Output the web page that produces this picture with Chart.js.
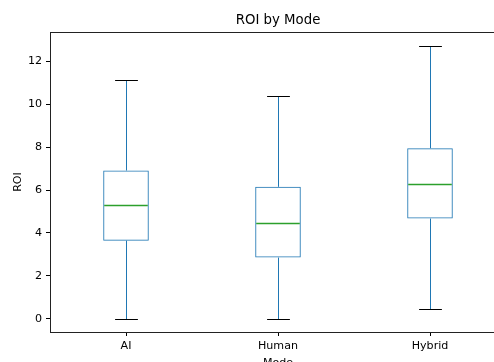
<!DOCTYPE html>
<html>
<head>
<meta charset="utf-8">
<script src="https://cdn.jsdelivr.net/npm/chart.js@4/dist/chart.umd.min.js"></script>
<style>
  html, body { margin: 0; padding: 0; background: #fff; overflow: hidden; }
  #wrap { width: 510px; height: 370px; }
</style>
</head>
<body>
<div id="wrap"><canvas id="boxChart" width="510" height="370"></canvas></div>
<script>
// box stats
const modes = ["AI", "Human", "Hybrid"];
const whiskerLow = [0, 0, 0.47];
const q1 = [3.64, 2.85, 4.67];
const medians = [5.3, 4.48, 6.3];
const q3 = [6.91, 6.15, 7.95];
const whiskerHigh = [11.11, 10.38, 12.71];
const yTicks = [0, 2, 4, 6, 8, 10, 12];

const font = "'DejaVu Sans', sans-serif";

// whiskers, caps, medians, the frame and the title
const boxExtras = {
	id: "boxExtras",
	afterDatasetsDraw(chart) {
		const ctx = chart.ctx;
		const y = chart.scales.y;
		const area = chart.chartArea;
		const bars = chart.getDatasetMeta(0).data;
		ctx.save();
		ctx.lineWidth = 1;
		bars.forEach((bar, i) => {
			const cx = Math.round(bar.x) + 0.5;
			const half = bar.width / 2;
			const capHalf = bar.width / 4;
			const yLo = Math.round(y.getPixelForValue(whiskerLow[i])) + 0.5;
			const yHi = Math.round(y.getPixelForValue(whiskerHigh[i])) + 0.5;
			const yQ1 = y.getPixelForValue(q1[i]);
			const yQ3 = y.getPixelForValue(q3[i]);
			const yMed = Math.round(y.getPixelForValue(medians[i])) + 0.5;

			ctx.strokeStyle = "#1f77b4";
			ctx.beginPath();
			ctx.moveTo(cx, yLo);
			ctx.lineTo(cx, yQ1);
			ctx.moveTo(cx, yQ3);
			ctx.lineTo(cx, yHi);
			ctx.stroke();

			ctx.strokeStyle = "#000";
			ctx.beginPath();
			ctx.moveTo(cx - capHalf, yLo);
			ctx.lineTo(cx + capHalf, yLo);
			ctx.moveTo(cx - capHalf, yHi);
			ctx.lineTo(cx + capHalf, yHi);
			ctx.stroke();

			ctx.strokeStyle = "#2ca02c";
			ctx.lineWidth = 1.3;
			ctx.beginPath();
			ctx.moveTo(bar.x - half + 1, yMed);
			ctx.lineTo(bar.x + half - 1, yMed);
			ctx.stroke();
			ctx.lineWidth = 1;
		});

		ctx.strokeStyle = "#222";
		ctx.strokeRect(Math.round(area.left) + 0.5, Math.round(area.top) + 0.5,
			Math.round(area.right - area.left), Math.round(area.bottom - area.top));

		ctx.fillStyle = "#000";
		ctx.font = "13.3px " + font;
		ctx.textAlign = "center";
		ctx.textBaseline = "middle";
		ctx.fillText("ROI by Mode", (area.left + area.right) / 2, 21);
		ctx.restore();
	},
};

const ctx = document.getElementById("boxChart").getContext("2d");
const boxChart = new Chart(ctx, {
	type: "bar",
	data: {
		labels: modes,
		datasets: [
			{
				data: modes.map((m, i) => [q1[i], q3[i]]),
				backgroundColor: "rgba(0,0,0,0)",
				borderColor: "#1f77b4",
				borderWidth: 1,
				borderSkipped: false,
				categoryPercentage: 1,
				barPercentage: 0.3,
			},
		],
	},
	options: {
		responsive: false,
		animation: false,
		layout: { padding: { top: 32, left: 0, right: 4, bottom: 0 } },
		plugins: {
			legend: { display: false },
			tooltip: { enabled: false },
		},
		scales: {
			x: {
				afterFit: (scale) => {
					scale.height = 38;
				},
				grid: { offset: false, drawOnChartArea: false, color: "#000", tickLength: 4 },
				border: { display: false },
				ticks: { color: "#000", font: { family: font, size: 11.1 }, padding: 3 },
				title: {
					display: true,
					text: "Mode",
					color: "#000",
					font: { family: font, size: 11.1 },
					padding: { top: 0, bottom: 0 },
				},
			},
			y: {
				min: -0.62,
				max: 13.37,
				afterFit: (scale) => {
					scale.width = 50;
				},
				afterBuildTicks: (scale) => {
					scale.ticks = yTicks.map((v) => ({ value: v }));
				},
				grid: { drawOnChartArea: false, color: "#000", tickLength: 4 },
				border: { display: false },
				ticks: { color: "#000", font: { family: font, size: 11.1 }, padding: 4 },
				title: {
					display: true,
					text: "ROI",
					color: "#000",
					font: { family: font, size: 11.1 },
					padding: { top: 11, bottom: 0 },
				},
			},
		},
	},
	plugins: [boxExtras],
});
</script>
</body>
</html>
